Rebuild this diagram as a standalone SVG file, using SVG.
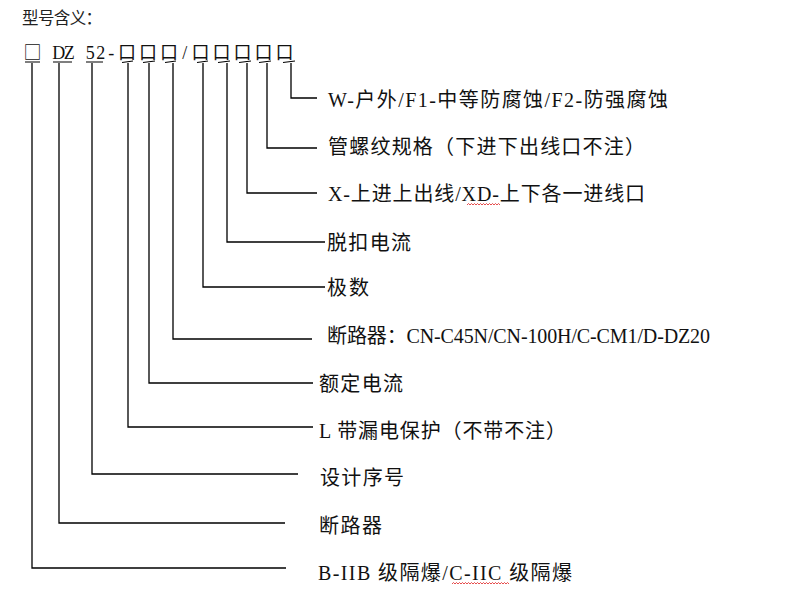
<svg xmlns="http://www.w3.org/2000/svg" width="799" height="602" viewBox="0 0 799 602">
<style>
  .t{font-family:"Liberation Serif","Noto Sans CJK SC",serif;font-size:20px;fill:#111}
  .h{font-family:"Liberation Serif","Noto Sans CJK SC",serif;font-size:16.5px;fill:#222}
  .code{font-family:"Liberation Serif","Noto Sans CJK SC",serif;font-size:18px;fill:#111}
  .cjk{font-family:"Noto Sans CJK SC",sans-serif}
  .ln{fill:none;stroke:#000;stroke-width:1.3}
  .tick{fill:none;stroke:#000;stroke-width:1.2}
  .sq{fill:none;stroke:#e02020;stroke-width:0.8}
</style>
<rect width="799" height="602" fill="#fff"/>
<g id="title"><text class="h" x="22" y="24" textLength="80">型号含义：</text></g>
<g id="code">
  <text class="code" y="59" text-anchor="middle" x="32.5 48 58.75 69.25 79.75 90.25 100.75 111.25 127 148 169 184.75 200.5 221.5 242.5 263.5 284.5"><tspan class="cjk">□</tspan> DZ 52-口口口/口口口口口</text>
  <path class="tick" d="M25 62H40M53 62H72M86 62H103"/>
  <path class="tick" d="M122 62.5L133 61M143 62.5L155 61M165 62.5L176 61M197 62.5L208 61M218 62.5L230 61M239 62.5L251 61M259 62.5L271 61M283 62.5L295 61"/>
</g>
<g id="connectors">
  <path class="ln" d="M291 63V98H317"/>
  <path class="ln" d="M267 63V148H317"/>
  <path class="ln" d="M247 63V193H317"/>
  <path class="ln" d="M227 63V242H325"/>
  <path class="ln" d="M203 63V287H325"/>
  <path class="ln" d="M173 63V339H312"/>
  <path class="ln" d="M149 63V383H313"/>
  <path class="ln" d="M128 63V427H313"/>
  <path class="ln" d="M92 63V474H298"/>
  <path class="ln" d="M59 63V523H285"/>
  <path class="ln" d="M32 63V568H286"/>
</g>
<g id="n1"><text class="t" x="328" y="107" textLength="340">W-户外/F1-中等防腐蚀/F2-防强腐蚀</text></g>
<g id="n2"><text class="t" x="328" y="154" textLength="317">管螺纹规格（下进下出线口不注）</text></g>
<g id="n3"><text class="t" x="328" y="201" textLength="317">X-上进上出线/XD-上下各一进线口</text>
  <path class="sq" d="M467 205l1.5 -1.5l1.5 1.5l1.5 -1.5l1.5 1.5l1.5 -1.5l1.5 1.5l1.5 -1.5l1.5 1.5l1.5 -1.5l1.5 1.5l1.5 -1.5l1.5 1.5l1.5 -1.5l1.5 1.5l1.5 -1.5l1.5 1.5l1.5 -1.5l1.5 1.5l1.5 -1.5l1.5 1.5l1.5 -1.5l1.5 1.5"/></g>
<g id="n4"><text class="t" x="327" y="250" textLength="84">脱扣电流</text></g>
<g id="n5"><text class="t" x="327" y="295" textLength="42">极数</text></g>
<g id="n6"><text class="t" x="327" y="343" textLength="383">断路器：CN-C45N/CN-100H/C-CM1/D-DZ20</text></g>
<g id="n7"><text class="t" x="319" y="391" textLength="84">额定电流</text></g>
<g id="n8"><text class="t" x="319" y="438" textLength="247">L 带漏电保护（不带不注）</text></g>
<g id="n9"><text class="t" x="320" y="485" textLength="84">设计序号</text></g>
<g id="n10"><text class="t" x="319" y="533" textLength="63">断路器</text></g>
<g id="n11"><text class="t" x="318" y="580" textLength="254">B-IIB 级隔爆/C-IIC 级隔爆</text>
  <path class="sq" d="M452 584l1.5 -1.5l1.5 1.5l1.5 -1.5l1.5 1.5l1.5 -1.5l1.5 1.5l1.5 -1.5l1.5 1.5l1.5 -1.5l1.5 1.5l1.5 -1.5l1.5 1.5l1.5 -1.5l1.5 1.5l1.5 -1.5l1.5 1.5l1.5 -1.5l1.5 1.5l1.5 -1.5l1.5 1.5l1.5 -1.5l1.5 1.5l1.5 -1.5l1.5 1.5l1.5 -1.5l1.5 1.5l1.5 -1.5l1.5 1.5l1.5 -1.5l1.5 1.5l1.5 -1.5l1.5 1.5l1.5 -1.5l1.5 1.5l1.5 -1.5l1.5 1.5l1.5 -1.5l1.5 1.5"/></g>
</svg>
